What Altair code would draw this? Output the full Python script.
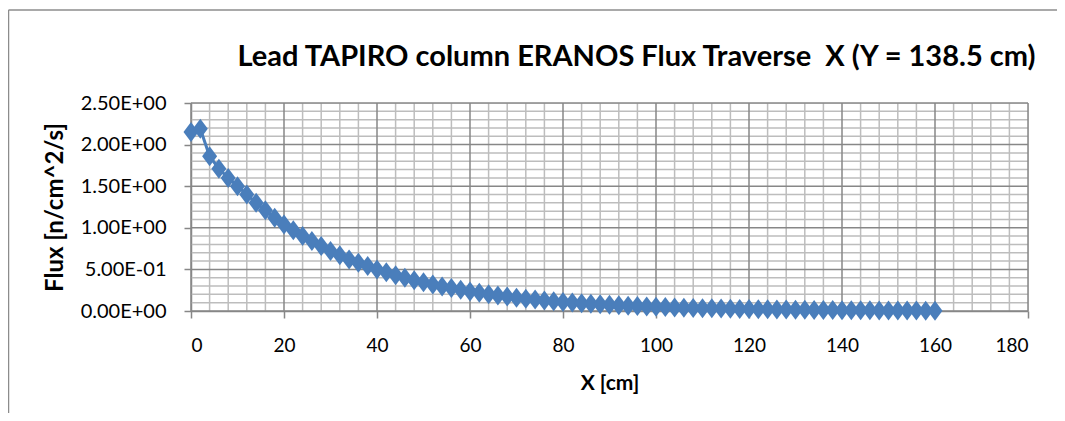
import altair as alt
import pandas as pd

# ---- data ----
x_cm = [0, 2, 4, 6, 8, 10, 12, 14, 16, 18,
        20, 22, 24, 26, 28, 30, 32, 34, 36, 38,
        40, 42, 44, 46, 48, 50, 52, 54, 56, 58,
        60, 62, 64, 66, 68, 70, 72, 74, 76, 78,
        80, 82, 84, 86, 88, 90, 92, 94, 96, 98,
        100, 102, 104, 106, 108, 110, 112, 114, 116, 118,
        120, 122, 124, 126, 128, 130, 132, 134, 136, 138,
        140, 142, 144, 146, 148, 150, 152, 154, 156, 158,
        160]
flux = [2.15, 2.19, 1.86, 1.71, 1.60, 1.50, 1.40, 1.30, 1.21, 1.12,
        1.04, 0.97, 0.90, 0.84, 0.78, 0.72, 0.67, 0.62, 0.58, 0.54,
        0.50, 0.465, 0.43, 0.40, 0.37, 0.345, 0.32, 0.295, 0.275, 0.255,
        0.235, 0.218, 0.202, 0.187, 0.173, 0.160, 0.148, 0.137, 0.127, 0.118,
        0.109, 0.101, 0.094, 0.087, 0.080, 0.074, 0.069, 0.064, 0.059, 0.055,
        0.051, 0.047, 0.043, 0.040, 0.037, 0.034, 0.032, 0.029, 0.027, 0.025,
        0.023, 0.021, 0.020, 0.018, 0.017, 0.015, 0.014, 0.013, 0.012, 0.011,
        0.010, 0.009, 0.0085, 0.0078, 0.0072, 0.0066, 0.0060, 0.0055, 0.0050, 0.0045,
        0.0040]

x_ticks = [0, 20, 40, 60, 80, 100, 120, 140, 160, 180]
y_ticks = [0.0, 0.5, 1.0, 1.5, 2.0, 2.5]
y_tick_labels = ["0.00E+00", "5.00E-01", "1.00E+00", "1.50E+00", "2.00E+00", "2.50E+00"]
x_minor = [v for v in range(4, 180, 4) if v % 20 != 0]
y_minor = [round(v / 10, 1) for v in range(1, 25) if v % 5 != 0]

title_text = "Lead TAPIRO column ERANOS Flux Traverse \u00a0X (Y = 138.5 cm)"
x_title = "X [cm]"
y_title = "Flux [n/cm^2/s]"

FONT = "Lato"
SERIES = "#4A7EBB"
MAJOR = "#878787"
MINOR = "#BDBDBD"

W, H = 837, 208

df = pd.DataFrame({"x": x_cm, "flux": flux})
xs = alt.Scale(domain=[0, 180], nice=False, zero=False)
ys = alt.Scale(domain=[0, 2.5], nice=False, zero=False)

label_expr = "[" + ",".join("'%s'" % s for s in y_tick_labels) + "][round(datum.value*2)]"

x_axis = alt.Axis(
    values=x_ticks, format="d", grid=False, title=x_title,
    domainColor=MAJOR, domainWidth=1.5, tickColor=MAJOR, tickWidth=1.5, tickSize=7,
    labelFont=FONT, labelFontSize=19, labelColor="#000000", labelPadding=18,
    titleFont=FONT, titleFontSize=21, titleFontWeight="bold", titleColor="#000000",
    titlePadding=17)
y_axis = alt.Axis(
    values=y_ticks, labelExpr=label_expr, grid=False, title=y_title,
    domainColor=MAJOR, domainWidth=1.5, tickColor=MAJOR, tickWidth=1.5, tickSize=7,
    labelFont=FONT, labelFontSize=20, labelColor="#000000", labelPadding=18,
    titleFont=FONT, titleFontSize=24, titleFontWeight="bold", titleColor="#000000",
    titlePadding=13)

minor_x = alt.Chart(pd.DataFrame({"gx": x_minor})).mark_rule(color=MINOR, strokeWidth=1.5).encode(
    x=alt.X("gx:Q", scale=xs, axis=x_axis), y=alt.Y(datum=0, scale=ys, axis=y_axis), y2=alt.Y2(datum=2.5))
minor_y = alt.Chart(pd.DataFrame({"gy": y_minor})).mark_rule(color=MINOR, strokeWidth=1.5).encode(
    y=alt.Y("gy:Q", scale=ys, axis=y_axis), x=alt.X(datum=0, scale=xs, axis=x_axis), x2=alt.X2(datum=180))
major_x = alt.Chart(pd.DataFrame({"gx": x_ticks})).mark_rule(color=MAJOR, strokeWidth=1.5).encode(
    x=alt.X("gx:Q", scale=xs, axis=x_axis), y=alt.Y(datum=0, scale=ys, axis=y_axis), y2=alt.Y2(datum=2.5))
major_y = alt.Chart(pd.DataFrame({"gy": y_ticks})).mark_rule(color=MAJOR, strokeWidth=1.5).encode(
    y=alt.Y("gy:Q", scale=ys, axis=y_axis), x=alt.X(datum=0, scale=xs, axis=x_axis), x2=alt.X2(datum=180))

base = alt.Chart(df).encode(
    x=alt.X("x:Q", scale=xs, axis=x_axis),
    y=alt.Y("flux:Q", scale=ys, axis=y_axis),
)
line = base.mark_line(color=SERIES, strokeWidth=3)
points = base.mark_point(shape="M-0.75,0L0,-1L0.75,0L0,1Z", size=400, filled=True,
                         color=SERIES, opacity=1, strokeWidth=0)

frame_df = pd.DataFrame({"k": [0]})
frame_left = alt.Chart(frame_df).mark_rule(color="#8C8C8C", strokeWidth=1.5).encode(
    x=alt.value(-182.5), y=alt.value(-93), y2=alt.value(330))
frame_top = alt.Chart(frame_df).mark_rule(color="#8C8C8C", strokeWidth=1.5).encode(
    x=alt.value(-182.5), x2=alt.value(900), y=alt.value(-93))

chart = alt.layer(minor_x, minor_y, major_x, major_y, line, points, frame_left, frame_top).properties(
    width=W, height=H,
    title=alt.TitleParams(title_text, font=FONT, fontSize=29, fontWeight="bold", color="#000000",
                          anchor="middle", frame="group", baseline="alphabetic", offset=-86, dx=27),
    autosize=alt.AutoSizeParams(type="none"),
    padding={"left": 183, "top": 95, "right": 29, "bottom": 102},
).configure_view(stroke=None).configure(background="#FFFFFF")

chart.save("out.html", embed_options={"renderer": "svg", "actions": False})
